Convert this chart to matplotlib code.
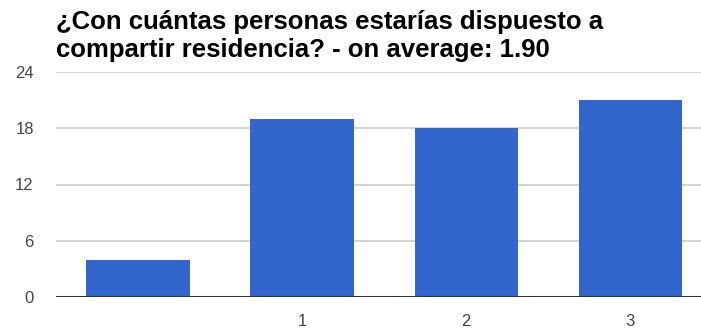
import matplotlib
matplotlib.use("Agg")
import matplotlib.pyplot as plt

# data
categories = ["", "1", "2", "3"]
counts = [4, 19, 18, 21]
y_ticks = [0, 6, 12, 18, 24]
title_lines = ["¿Con cuántas personas estarías dispuesto a",
               "compartir residencia? - on average: 1.90"]

plt.rcParams['font.family'] = ['Liberation Sans', 'DejaVu Sans']

W, H = 701, 333
fig = plt.figure(figsize=(W / 100, H / 100), dpi=100)

# axes in pixel terms (plot area runs a bit past the right edge, as in the source)
left, right, bottom, top = 56, 712.5, 297.3, 71.7
ax = fig.add_axes([left / W, (H - bottom) / H, (right - left) / W, (bottom - top) / H])

x = list(range(len(categories)))
ax.bar(x, counts, width=0.63, color='#3366cc', zorder=3)

ax.set_xlim(-0.5, len(categories) - 0.5)
ax.set_ylim(0, 24)
ax.set_yticks(y_ticks)
ax.set_yticklabels([str(t) for t in y_ticks])
ax.set_xticks(x)
ax.set_xticklabels(categories)

ax.grid(axis='y', color='#cccccc', linewidth=1.2, zorder=0)
ax.axhline(0, color='#333333', linewidth=1.5, zorder=4)
for s in ax.spines.values():
    s.set_visible(False)
ax.tick_params(axis='both', length=0, labelsize=12, labelcolor='#444444')
ax.tick_params(axis='y', pad=16)
ax.tick_params(axis='x', pad=12)

fig.text(56 / W, 1 - 29 / H, title_lines[0], fontsize=18.5, fontweight='bold',
         color='black', ha='left', va='baseline')
fig.text(56 / W, 1 - 57 / H, title_lines[1], fontsize=18.5, fontweight='bold',
         color='black', ha='left', va='baseline')

fig.savefig("out.png", dpi=100)
